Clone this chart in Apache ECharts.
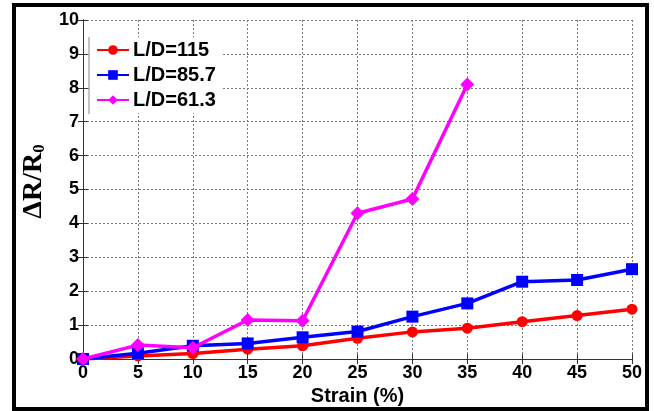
<!DOCTYPE html>
<html>
<head>
<meta charset="utf-8">
<script src="https://cdn.jsdelivr.net/npm/echarts@6/dist/echarts.min.js"></script>
<style>
  html, body { margin: 0; padding: 0; background: #fff; }
  #main { width: 654px; height: 411px; }
</style>
</head>
<body>
<div id="main"></div>
<script>
var strain = [0, 5, 10, 15, 20, 25, 30, 35, 40, 45, 50];
var ld115 = [0, 0.09, 0.16, 0.29, 0.39, 0.61, 0.80, 0.91, 1.10, 1.28, 1.47];
var ld857 = [0, 0.17, 0.39, 0.46, 0.64, 0.81, 1.25, 1.64, 2.28, 2.33, 2.65];
var ld613 = [0, 0.41, 0.33, 1.15, 1.13, 4.30, 4.72, 8.10];
var seriesNames = ['L/D=115', 'L/D=85.7', 'L/D=61.3'];

function pairs(ys) {
    return ys.map(function (v, i) { return [strain[i], v]; });
}

var myChart = echarts.init(document.getElementById('main'));
var fontBold = { fontFamily: 'Liberation Sans, Arial, sans-serif', fontWeight: 'bold', color: '#000' };

var option = {
    backgroundColor: '#fff',
    animation: false,
    grid: { left: 83, right: 22, top: 20, bottom: 52, outerBoundsMode: 'none', containLabel: false },
    legend: {
        left: 90, top: 37,
        orient: 'vertical',
        itemWidth: 32, itemHeight: 12, itemGap: 5,
        backgroundColor: '#fff',
        padding: [3, 6, 3, 6],
        data: seriesNames,
        textStyle: { fontFamily: 'Liberation Sans, Arial, sans-serif', fontWeight: 'bold', fontSize: 20, color: '#000', padding: [0, 0, 0, -1] }
    },
    xAxis: [{
        type: 'value', min: 0, max: 50, interval: 5,
        name: 'Strain (%)', nameLocation: 'middle', nameGap: 26,
        nameTextStyle: Object.assign({ fontSize: 20 }, fontBold),
        axisLine: { onZero: false, lineStyle: { color: '#333', width: 1 } },
        axisTick: { inside: true, length: 5, lineStyle: { color: '#333' } },
        axisLabel: Object.assign({ fontSize: 18, margin: 5 }, fontBold),
        splitLine: { show: true, lineStyle: { type: [2, 2], color: '#777', width: 1 } }
    }, {
        type: 'value', min: 0, max: 50, interval: 5, position: 'top',
        axisLine: { show: true, lineStyle: { color: '#333', width: 1 } },
        axisTick: { inside: true, length: 5, lineStyle: { color: '#333' } },
        axisLabel: { show: false },
        splitLine: { show: false }
    }],
    yAxis: [{
        type: 'value', min: 0, max: 10, interval: 1,
        name: '{a|ΔR/R}{b|0}', nameLocation: 'middle', nameGap: 32, nameRotate: 90,
        nameTextStyle: {
            padding: [0, 0, 0, 16],
            rich: {
                a: { fontFamily: 'Liberation Serif, Times New Roman, serif', fontWeight: 'bold', fontSize: 28, color: '#000' },
                b: { fontFamily: 'Liberation Serif, Times New Roman, serif', fontWeight: 'bold', fontSize: 17, color: '#000', padding: [12, 0, 0, 0] }
            }
        },
        axisLine: { show: true, onZero: false, lineStyle: { color: '#333', width: 1 } },
        axisTick: { inside: true, length: 5, lineStyle: { color: '#333' } },
        axisLabel: Object.assign({ fontSize: 18, margin: 4 }, fontBold),
        splitLine: { show: true, lineStyle: { type: [2, 2], color: '#777', width: 1 } }
    }, {
        type: 'value', min: 0, max: 10, interval: 1, position: 'right',
        axisLine: { show: true, lineStyle: { color: '#333', width: 1 } },
        axisTick: { inside: true, length: 5, lineStyle: { color: '#333' } },
        axisLabel: { show: false },
        splitLine: { show: false }
    }],
    series: [{
        name: seriesNames[0], type: 'line', data: pairs(ld115),
        symbol: 'circle', symbolSize: 11, z: 3,
        itemStyle: { color: '#ff0000' }, lineStyle: { width: 3.5, color: '#ff0000' }
    }, {
        name: seriesNames[1], type: 'line', data: pairs(ld857),
        symbol: 'rect', symbolSize: 12, z: 4,
        itemStyle: { color: '#0000ff' }, lineStyle: { width: 3.5, color: '#0000ff' }
    }, {
        name: seriesNames[2], type: 'line', data: pairs(ld613),
        symbol: 'diamond', symbolSize: 14, z: 5,
        itemStyle: { color: '#ff00ff' }, lineStyle: { width: 3.5, color: '#ff00ff' }
    }],
    graphic: [{
        type: 'rect', silent: true, z: 100,
        shape: { x: 14, y: 5, width: 633, height: 404 },
        style: { fill: 'none', stroke: '#000', lineWidth: 4 }
    }, {
        type: 'line', silent: true, z: 100,
        shape: { x1: 89, y1: 37, x2: 89, y2: 114 },
        style: { stroke: '#888', lineWidth: 1 }
    }]
};
myChart.setOption(option);
</script>
</body>
</html>
